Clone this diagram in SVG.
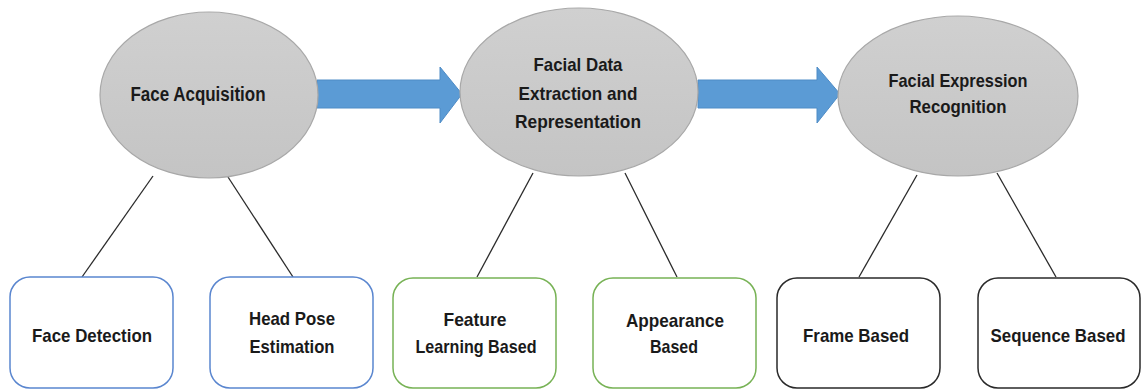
<svg xmlns="http://www.w3.org/2000/svg" width="1147" height="390" viewBox="0 0 1147 390">
<style>
.ell{fill:url(#g);stroke:#A8A8A8;stroke-width:1.2}
.arr{fill:#5B9BD5;stroke:#4F8CC6;stroke-width:1}
.box{fill:#fff;stroke-width:1.5}
.blue{stroke:#5A86CF}
.green{stroke:#77B255}
.black{stroke:#2A2A2A}
.conn line{stroke:#2A2A2A;stroke-width:1.3}
text{font-family:"Liberation Sans",Arial,sans-serif;font-weight:bold;font-size:19px;fill:#1A1A1A;text-anchor:middle}
</style>
<defs>
<linearGradient id="g" x1="0" y1="0" x2="0" y2="1">
<stop offset="0" stop-color="#D0D0D0"/>
<stop offset="1" stop-color="#C4C4C4"/>
</linearGradient>
</defs>
<rect width="1147" height="390" fill="#fff"/>
<g id="connectors" class="conn">
<line x1="153" y1="176" x2="82" y2="277"/>
<line x1="228" y1="177" x2="293" y2="277"/>
<line x1="533" y1="173" x2="477" y2="277"/>
<line x1="625" y1="173" x2="677" y2="277"/>
<line x1="917" y1="175" x2="859" y2="277"/>
<line x1="997" y1="173" x2="1056" y2="277"/>
<polygon class="arr" points="317,80 440,80 440,67 462,94 440,123 440,108 317,108"/>
<polygon class="arr" points="698,80 817,80 817,67 840,94 817,123 817,108 698,108"/>
</g>
<g id="face-acquisition">
<ellipse class="ell" cx="209" cy="95" rx="109" ry="83"/>
<text x="198" y="101" style="font-size:20px" textLength="135" lengthAdjust="spacingAndGlyphs">Face Acquisition</text>
</g>
<g id="facial-data">
<ellipse class="ell" cx="579" cy="92" rx="119" ry="84"/>
<text x="578" y="71" textLength="89" lengthAdjust="spacingAndGlyphs">Facial Data</text>
<text x="578" y="100" textLength="119" lengthAdjust="spacingAndGlyphs">Extraction and</text>
<text x="578" y="128" textLength="126" lengthAdjust="spacingAndGlyphs">Representation</text>
</g>
<g id="fer">
<ellipse class="ell" cx="958" cy="96" rx="120" ry="80"/>
<text x="958" y="87" textLength="139" lengthAdjust="spacingAndGlyphs">Facial Expression</text>
<text x="958" y="113" textLength="97" lengthAdjust="spacingAndGlyphs">Recognition</text>
</g>
<g id="face-detection">
<rect class="box blue" x="10" y="277" width="163" height="111" rx="20"/>
<text x="92" y="342" textLength="120" lengthAdjust="spacingAndGlyphs">Face Detection</text>
</g>
<g id="head-pose">
<rect class="box blue" x="210" y="277" width="163" height="111" rx="20"/>
<text x="292" y="325" textLength="86" lengthAdjust="spacingAndGlyphs">Head Pose</text>
<text x="292" y="353" textLength="85" lengthAdjust="spacingAndGlyphs">Estimation</text>
</g>
<g id="feature-learning">
<rect class="box green" x="393" y="278" width="163" height="110" rx="20"/>
<text x="475" y="326" textLength="63" lengthAdjust="spacingAndGlyphs">Feature</text>
<text x="476" y="353" textLength="121" lengthAdjust="spacingAndGlyphs">Learning Based</text>
</g>
<g id="appearance">
<rect class="box green" x="593" y="278" width="163" height="110" rx="20"/>
<text x="675" y="327" textLength="98" lengthAdjust="spacingAndGlyphs">Appearance</text>
<text x="674" y="353" textLength="48" lengthAdjust="spacingAndGlyphs">Based</text>
</g>
<g id="frame-based">
<rect class="box black" x="777" y="278" width="163" height="110" rx="20"/>
<text x="856" y="342" textLength="106" lengthAdjust="spacingAndGlyphs">Frame Based</text>
</g>
<g id="sequence-based">
<rect class="box black" x="978" y="278" width="162" height="110" rx="20"/>
<text x="1058" y="342" textLength="135" lengthAdjust="spacingAndGlyphs">Sequence Based</text>
</g>
</svg>
